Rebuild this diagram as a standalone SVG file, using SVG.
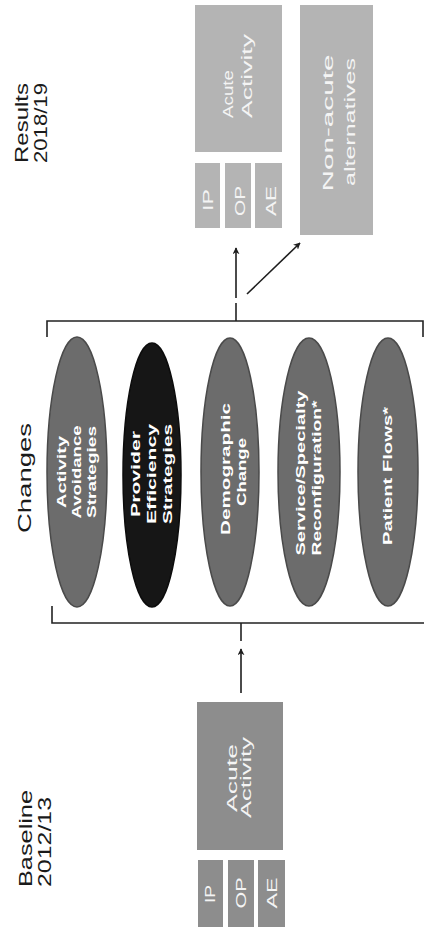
<svg xmlns="http://www.w3.org/2000/svg" width="424" height="936" viewBox="0 0 424 936">
  <style>
    .lbl { font-family: "Liberation Sans", Arial, sans-serif; font-size: 18px; fill: #1a1a1a; }
    .ell { stroke: #4a4a4a; stroke-width: 1.5; fill: #6c6c6c; }
    .ell-dark { fill: #161616; stroke: #0c0c0c; stroke-width: 1.5; }
    .et { font-family: "Liberation Sans", Arial, sans-serif; font-size: 13px; font-weight: bold; fill: #ffffff; text-anchor: middle; }
    .box-a { fill: #8d8d8d; }
    .box-b { fill: #b4b4b4; }
    .bt { font-family: "Liberation Sans", Arial, sans-serif; font-size: 15px; fill: #f4f4f4; }
    .bracket { fill: none; stroke: #222; stroke-width: 1.6; }
    .conn { fill: none; stroke: #1e1e1e; stroke-width: 1.6; }
  </style>
  <defs>
    <marker id="arrow" viewBox="0 0 10 10" refX="9" refY="5" markerWidth="7" markerHeight="7" markerUnits="userSpaceOnUse" orient="auto">
      <path d="M0,0 L10,5 L0,10 L3,5 Z" fill="#1e1e1e"/>
    </marker>
  </defs>
  <rect width="424" height="936" fill="#ffffff"/>

  <!-- column headings -->
  <g id="label-results">
    <text class="lbl" transform="translate(28,163) rotate(-90)" textLength="80" lengthAdjust="spacingAndGlyphs">Results</text>
    <text class="lbl" transform="translate(47,163) rotate(-90)" textLength="80" lengthAdjust="spacingAndGlyphs">2018/19</text>
  </g>
  <g id="label-changes">
    <text class="lbl" transform="translate(31,533) rotate(-90)" textLength="110" lengthAdjust="spacingAndGlyphs">Changes</text>
  </g>
  <g id="label-baseline">
    <text class="lbl" transform="translate(32,887) rotate(-90)" textLength="97" lengthAdjust="spacingAndGlyphs">Baseline</text>
    <text class="lbl" transform="translate(51,887) rotate(-90)" textLength="90" lengthAdjust="spacingAndGlyphs">2012/13</text>
  </g>

  <!-- results 2018/19 -->
  <g id="res-acute">
    <rect class="box-b" x="195" y="5" width="87" height="147"/>
    <text class="bt" transform="translate(233,118) rotate(-90)" textLength="48" lengthAdjust="spacingAndGlyphs">Acute</text>
    <text class="bt" transform="translate(252,118) rotate(-90)" textLength="84" lengthAdjust="spacingAndGlyphs">Activity</text>
  </g>
  <g id="res-ip">
    <rect class="box-b" x="195" y="163" width="25" height="65"/>
    <text class="bt" text-anchor="middle" transform="translate(213,200) rotate(-90)" textLength="22" lengthAdjust="spacingAndGlyphs">IP</text>
  </g>
  <g id="res-op">
    <rect class="box-b" x="225" y="163" width="26" height="65"/>
    <text class="bt" text-anchor="middle" transform="translate(245,201) rotate(-90)" textLength="30" lengthAdjust="spacingAndGlyphs">OP</text>
  </g>
  <g id="res-ae">
    <rect class="box-b" x="255" y="163" width="27" height="65"/>
    <text class="bt" text-anchor="middle" transform="translate(276,201) rotate(-90)" textLength="30" lengthAdjust="spacingAndGlyphs">AE</text>
  </g>
  <g id="res-nonacute">
    <rect class="box-b" x="300" y="5" width="73" height="230"/>
    <text class="bt" text-anchor="middle" transform="translate(333,123) rotate(-90)" textLength="137" lengthAdjust="spacingAndGlyphs">Non-acute</text>
    <text class="bt" text-anchor="middle" transform="translate(355,122) rotate(-90)" textLength="128" lengthAdjust="spacingAndGlyphs">alternatives</text>
  </g>

  <!-- changes -->
  <g id="chg-activity">
    <ellipse class="ell" cx="77" cy="472" rx="30" ry="135"/>
    <text class="et" transform="translate(66,472) rotate(-90)" textLength="72" lengthAdjust="spacingAndGlyphs">Activity</text>
    <text class="et" transform="translate(81,472) rotate(-90)" textLength="93" lengthAdjust="spacingAndGlyphs">Avoidance</text>
    <text class="et" transform="translate(96,472) rotate(-90)" textLength="92" lengthAdjust="spacingAndGlyphs">Strategies</text>
  </g>
  <g id="chg-provider">
    <ellipse class="ell-dark" cx="152" cy="475" rx="29" ry="132"/>
    <text class="et" transform="translate(140,474) rotate(-90)" textLength="86" lengthAdjust="spacingAndGlyphs">Provider</text>
    <text class="et" transform="translate(156,474) rotate(-90)" textLength="100" lengthAdjust="spacingAndGlyphs">Efficiency</text>
    <text class="et" transform="translate(172,474) rotate(-90)" textLength="100" lengthAdjust="spacingAndGlyphs">Strategies</text>
  </g>
  <g id="chg-demographic">
    <ellipse class="ell" cx="230" cy="472" rx="29" ry="134"/>
    <text class="et" transform="translate(230,469) rotate(-90)" textLength="132" lengthAdjust="spacingAndGlyphs">Demographic</text>
    <text class="et" transform="translate(246,472) rotate(-90)" textLength="68" lengthAdjust="spacingAndGlyphs">Change</text>
  </g>
  <g id="chg-service">
    <ellipse class="ell" cx="309" cy="472" rx="31" ry="134"/>
    <text class="et" transform="translate(305,473) rotate(-90)" textLength="165" lengthAdjust="spacingAndGlyphs">Service/Specialty</text>
    <text class="et" transform="translate(321,478) rotate(-90)" textLength="155" lengthAdjust="spacingAndGlyphs">Reconfiguration*</text>
  </g>
  <g id="chg-flows">
    <ellipse class="ell" cx="388" cy="472" rx="30" ry="134"/>
    <text class="et" transform="translate(392,476) rotate(-90)" textLength="138" lengthAdjust="spacingAndGlyphs">Patient Flows*</text>
  </g>

  <!-- baseline 2012/13 -->
  <g id="base-acute">
    <rect class="box-a" x="197" y="702" width="86" height="148"/>
    <text class="bt" transform="translate(237,812) rotate(-90)" textLength="68" lengthAdjust="spacingAndGlyphs">Acute</text>
    <text class="bt" transform="translate(251,818) rotate(-90)" textLength="81" lengthAdjust="spacingAndGlyphs">Activity</text>
  </g>
  <g id="base-ip">
    <rect class="box-a" x="198" y="860" width="25" height="67"/>
    <text class="bt" text-anchor="middle" transform="translate(215,894) rotate(-90)" textLength="18" lengthAdjust="spacingAndGlyphs">IP</text>
  </g>
  <g id="base-op">
    <rect class="box-a" x="228" y="860" width="26" height="67"/>
    <text class="bt" text-anchor="middle" transform="translate(246,893) rotate(-90)" textLength="31" lengthAdjust="spacingAndGlyphs">OP</text>
  </g>
  <g id="base-ae">
    <rect class="box-a" x="258" y="860" width="27" height="67"/>
    <text class="bt" text-anchor="middle" transform="translate(277,893) rotate(-90)" textLength="31" lengthAdjust="spacingAndGlyphs">AE</text>
  </g>

  <!-- brackets and connectors -->
  <g id="connectors">
    <path class="bracket" d="M47,337 V321 H423 V337 M236,321 V303"/>
    <path class="bracket" d="M52,606 V623 H424 M241,623 V641"/>
    <line class="conn" x1="236" y1="298" x2="236" y2="248" marker-end="url(#arrow)"/>
    <line class="conn" x1="247" y1="294" x2="300" y2="243" marker-end="url(#arrow)"/>
    <line class="conn" x1="241" y1="693" x2="241" y2="649" marker-end="url(#arrow)"/>
  </g>
</svg>
